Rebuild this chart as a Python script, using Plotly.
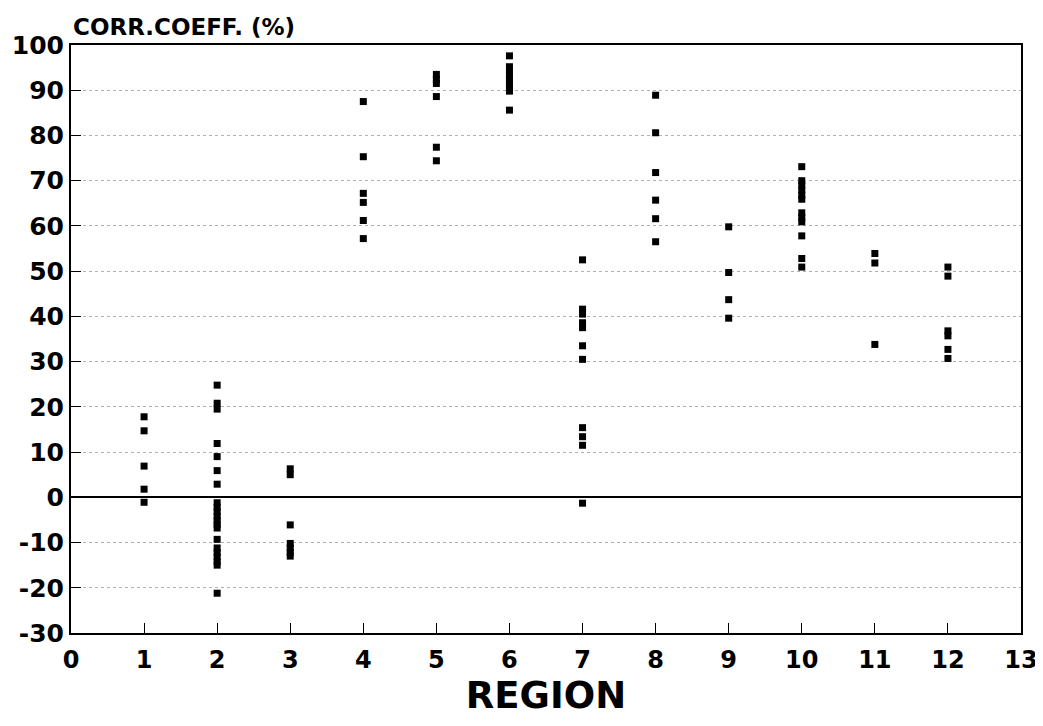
import plotly.graph_objects as go

# Data: correlation coefficient (%) per region
region_1 = [17.8, 14.7, 6.9, 1.8, -1.1]
region_2 = [24.8, 20.8, 19.5, 11.9, 9.0, 5.9, 2.9, -1.2, -2.2, -3.2, -4.2, -5.2, -6.0, -6.8,
            -9.3, -11.2, -12.2, -13.2, -14.2, -15.0, -21.2]
region_3 = [6.3, 5.0, -6.1, -10.2, -11.2, -12.2, -13.0]
region_4 = [87.5, 75.3, 67.2, 65.2, 61.2, 57.2]
region_5 = [93.5, 92.4, 91.5, 88.6, 77.4, 74.4]
region_6 = [97.6, 95.2, 94.2, 93.3, 92.4, 91.5, 90.6, 89.8, 85.6]
region_7 = [52.5, 41.6, 40.5, 38.6, 37.5, 33.5, 30.5, 15.4, 13.4, 11.5, -1.3]
region_8 = [88.9, 80.6, 71.8, 65.7, 61.6, 56.5]
region_9 = [59.8, 49.7, 43.7, 39.6]
region_10 = [73.1, 70.0, 69.0, 67.9, 66.8, 65.9, 62.9, 61.9, 60.9, 57.8, 52.8, 50.9]
region_11 = [53.9, 51.8, 33.8]
region_12 = [50.9, 48.9, 36.8, 35.7, 32.7, 30.7]

regions = [region_1, region_2, region_3, region_4, region_5, region_6,
           region_7, region_8, region_9, region_10, region_11, region_12]

x_ticks = list(range(0, 14))
y_ticks = list(range(-30, 101, 10))

xs, ys = [], []
for i, vals in enumerate(regions, start=1):
    xs += [i] * len(vals)
    ys += vals

FONT = "DejaVu Sans, Arial, sans-serif"

fig = go.Figure()
fig.add_trace(go.Scatter(
    x=xs, y=ys, mode="markers",
    marker=dict(symbol="square", size=7, color="black", line=dict(width=0)),
    showlegend=False, hoverinfo="skip",
))

fig.update_layout(
    width=1035, height=718,
    margin=dict(l=63, r=22, t=37, b=93),
    paper_bgcolor="white", plot_bgcolor="white",
    font=dict(family=FONT, color="black"),
    xaxis=dict(
        range=[0, 13], tickvals=x_ticks, ticktext=[f"<b>{t}</b>" for t in x_ticks],
        ticks="inside", ticklen=10, tickwidth=1, tickcolor="black",
        showline=True, linecolor="black", linewidth=2, mirror=True,
        showgrid=False, zeroline=False, automargin=False,
        tickfont=dict(size=24, family=FONT),
        ticklabelstandoff=4,
        title=dict(text="<b>REGION</b>", font=dict(size=37, family=FONT), standoff=8),
    ),
    yaxis=dict(
        range=[-30, 100], tickvals=y_ticks, ticktext=[f"<b>{t}</b>" for t in y_ticks],
        ticks="inside", ticklen=10, tickwidth=1, tickcolor="black",
        showline=True, linecolor="black", linewidth=2, mirror=True,
        showgrid=True, gridcolor="#b0b0b0", gridwidth=1, griddash="dot",
        zeroline=True, zerolinecolor="black", zerolinewidth=2, automargin=False,
        tickfont=dict(size=25, family=FONT),
        ticklabelstandoff=0,
    ),
    annotations=[dict(
        text="<b>CORR.COEFF. (%)</b>", xref="paper", yref="paper",
        x=0, y=1, xanchor="left", yanchor="bottom", yshift=3, showarrow=False,
        font=dict(size=23, family=FONT),
    )],
)

fig.write_html("out.html")
